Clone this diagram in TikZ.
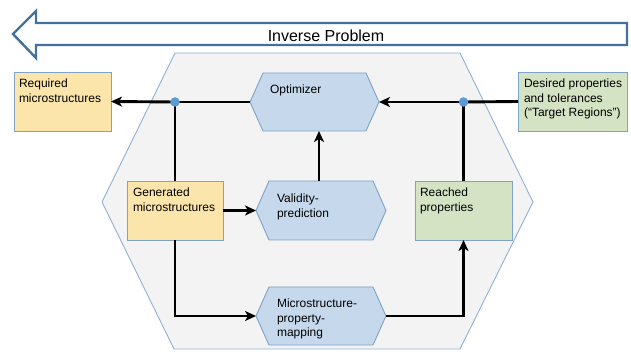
\documentclass[tikz,border=0pt]{standalone}
\usepackage{fontspec}
\setmainfont{Liberation Sans}
\usetikzlibrary{arrows.meta,calc}
\definecolor{bigarrow}{HTML}{41719C}
\definecolor{hexline}{HTML}{8FB0D4}
\definecolor{hexfill}{HTML}{F3F3F3}
\definecolor{boxline}{HTML}{7FA2C7}
\definecolor{yellowfill}{HTML}{FCE5AA}
\definecolor{greenfill}{HTML}{D4E3C4}
\definecolor{bluefill}{HTML}{C6D9EC}
\definecolor{dotfill}{HTML}{5B9BD5}
\tikzset{
  every node/.style={font=\fontsize{12}{14.5}\selectfont, inner sep=0pt, outer sep=0pt},
  ybox/.style={draw=boxline, fill=yellowfill, line width=0.9pt, rectangle},
  gbox/.style={draw=boxline, fill=greenfill, line width=0.9pt, rectangle},
  hexarea/.style={rectangle},
  hexshape/.style={draw=boxline, fill=bluefill, line width=0.9pt},
  txt/.style={anchor=north west, align=left},
  conn/.style={line width=2.9pt, draw=black},
  arr/.style={conn, -{Stealth[length=11pt,width=10pt,inset=3pt]}},
  junction/.style={circle, fill=dotfill, minimum size=9.5pt}
}
\begin{document}
\begin{tikzpicture}[x=1pt,y=-1pt]
\useasboundingbox (0,0) rectangle (631,352);
% big background hexagon
\draw[draw=hexline, fill=hexfill, line width=0.9pt]
  (175,53) -- (460,53) -- (533,202) -- (460,349) -- (174,349) -- (102,202) -- cycle;
% Inverse problem arrow
\draw[draw=bigarrow, fill=white, line width=2.4pt, line join=miter]
  (627,23) -- (36,23) -- (36,11) -- (13,34) -- (36,58) -- (36,45) -- (627,45) -- cycle;
\node[anchor=base] (inv) at (326,42) {\fontsize{16}{19}\selectfont Inverse Problem};

% rectangular boxes
\node[ybox, minimum width=97pt, minimum height=59pt] (req) at (62.5,101.5) {};
\node[txt] (reqt) at (19,79.2) {Required\\microstructures};
\node[gbox, minimum width=109pt, minimum height=59pt] (des) at (572.5,101.5) {};
\node[txt] (dest) at (524,79.2) {Desired properties\\and tolerances\\(“Target Regions”)};
\node[ybox, minimum width=96pt, minimum height=59pt] (gen) at (175,210.5) {};
\node[txt] (gent) at (133,188.2) {Generated\\microstructures};
\node[gbox, minimum width=97pt, minimum height=59pt] (reach) at (463.5,210.5) {};
\node[txt] (reacht) at (420,188.2) {Reached\\properties};

% hexagonal process nodes
\node[hexarea, minimum width=129pt, minimum height=58pt] (opt) at (314.5,102) {};
\node[hexarea, minimum width=130pt, minimum height=59pt] (val) at (321,210.5) {};
\node[hexarea, minimum width=130pt, minimum height=58pt] (map) at (321,316) {};
\foreach \n in {opt,val,map}{
  \draw[hexshape] (\n.west) -- ([xshift=13pt]\n.north west) -- ([xshift=-13pt]\n.north east)
    -- (\n.east) -- ([xshift=-13pt]\n.south east) -- ([xshift=13pt]\n.south west) -- cycle;
}
\node[txt] (optt) at (270,85) {Optimizer};
\node[txt] (valt) at (277,194.2) {Validity-\\prediction};
\node[txt] (mapt) at (277,299.2) {Microstructure-\\property-\\mapping};

% junctions
\coordinate (jl) at (175,102);
\coordinate (jr) at (463.5,102);

% connectors
\draw[conn] (des.west) -- (jr);
\draw[arr] (jr) -- (opt.east);
\draw[conn] (jr) -- (reach.north);
\draw[conn] (opt.west) -- (jl);
\draw[arr] (jl) -- (req.east);
\draw[conn] (jl) -- (gen.north);
\draw[arr] (gen.east) -- (val.west);
\draw[arr] (val.north -| 319,0) -- (opt.south -| 319,0);
\draw[arr] (gen.south) |- (map.west);
\draw[arr] (map.east) -| (reach.south);

\node[junction] (dl) at (jl) {};
\node[junction] (dr) at (jr) {};
\end{tikzpicture}
\end{document}
